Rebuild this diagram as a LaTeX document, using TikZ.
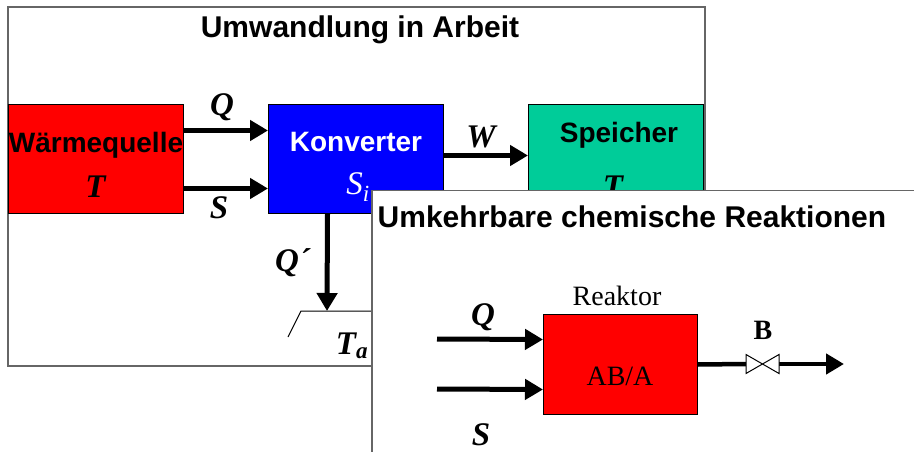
\documentclass[tikz,border=0pt]{standalone}
\usepackage{fontspec}
\setmainfont{Liberation Serif}
\setsansfont{Liberation Sans}
\usetikzlibrary{arrows.meta}

\definecolor{speichergruen}{RGB}{0,204,153}
\newcommand{\gr}[1]{\textbf{\textit{#1}}}

\tikzset{
  rahmen/.style={draw=black!60, line width=1.2pt, fill=white},
  block/.style={draw, line width=1pt, minimum width=175pt, minimum height=109pt, inner sep=0pt},
  pfeil/.style={line width=5pt, -{Triangle[length=18pt,width=20pt]}},
  titel/.style={font=\sffamily\bfseries\fontsize{30}{32}\selectfont},
  btext/.style={font=\sffamily\bfseries\fontsize{28}{30}\selectfont},
  rtext/.style={font=\fontsize{28}{30}\selectfont},
  sym/.style={font=\fontsize{33}{35}\selectfont},
}

\begin{document}
\begin{tikzpicture}[x=1pt,y=-1pt]
\useasboundingbox (0,0) rectangle (914,452);
\clip (0,0) rectangle (914,452);

% Umwandlung in Arbeit
\draw[rahmen] (8,7) rectangle (705,366);
\node[titel] (titel1) at (360,30) {Umwandlung in Arbeit};

\node[block, fill=red, anchor=north west] (quelle) at (8,104) {};
\node[block, fill=blue, anchor=north west] (konv) at (268,104) {};
\node[block, fill=speichergruen, anchor=north west] (speicher) at (528,104) {};

\node[btext] (quelletxt) at (96,145) {Wärmequelle};
\node[sym] (quelleT) at (96,187) {\gr{T}};
\node[btext, white] (konvtxt) at (356,142) {Konverter};
\node[sym, white] (konvS) at (358,187) {\textit{S}\textsubscript{\textit{i}}};
\node[btext] (speichertxt) at (619,135) {Speicher};
\node[sym] (speicherT) at (619,189) {\gr{T\textsubscript{a}}};

\draw[pfeil] ([yshift=28.5pt]quelle.east) -- ([yshift=28.5pt]konv.west);
\draw[pfeil] ([yshift=-29.5pt]quelle.east) -- ([yshift=-29.5pt]konv.west);
\draw[pfeil] ([yshift=3.5pt]konv.east) -- ([yshift=3.5pt]speicher.west);
\node[sym] (lq) at (222,107) {\gr{Q}};
\node[sym] (ls) at (219,208) {\gr{S}};
\node[sym] (lw) at (482,137) {\gr{W}};

\coordinate (boden) at (327,311);
\draw[pfeil] ([xshift=-28.5pt]konv.south) -- (boden);
\node[sym] (lq2) at (293,263) {\gr{Q´}};
\draw[line width=1pt] (288,337) -- (301,311) -- (400,311);
\node[sym] (bodenT) at (352,346) {\gr{T\textsubscript{a}}};

% Umkehrbare chemische Reaktionen
\draw[rahmen] (372,190.5) rectangle (940,480);
\node[titel] (titel2) at (632,217) {Umkehrbare chemische Reaktionen};

\node[block, fill=red, minimum width=154pt, minimum height=100pt, anchor=north west] (reaktor) at (543,314) {};
\node[rtext] (reaktortxt) at (617,296) {Reaktor};
\node[rtext] (abtxt) at (620,376) {AB/A};

\coordinate (qein) at (437,339);
\coordinate (sein) at (437,389);
\draw[pfeil] (qein) -- ([yshift=25pt]reaktor.west);
\draw[pfeil] (sein) -- ([yshift=-25pt]reaktor.west);
\node[sym] (rq) at (483,317) {\gr{Q}};
\node[sym] (rs) at (481,435) {\gr{S}};

\coordinate (ventil) at (762.5,364);
\coordinate (aus) at (844,364);
\draw[line width=4.5pt] (reaktor.east) -- ([xshift=-16.5pt]ventil);
\draw[pfeil, line width=4.5pt] ([xshift=16.5pt]ventil) -- (aus);
\draw[line width=1pt, fill=white] (ventil) -- ++(-16.5,-9.5) -- ++(0,19) -- cycle;
\draw[line width=1pt, fill=white] (ventil) -- ++(16.5,-9.5) -- ++(0,19) -- cycle;
\node[rtext] (lb) at (763,330) {\textbf{B}};
\end{tikzpicture}
\end{document}
